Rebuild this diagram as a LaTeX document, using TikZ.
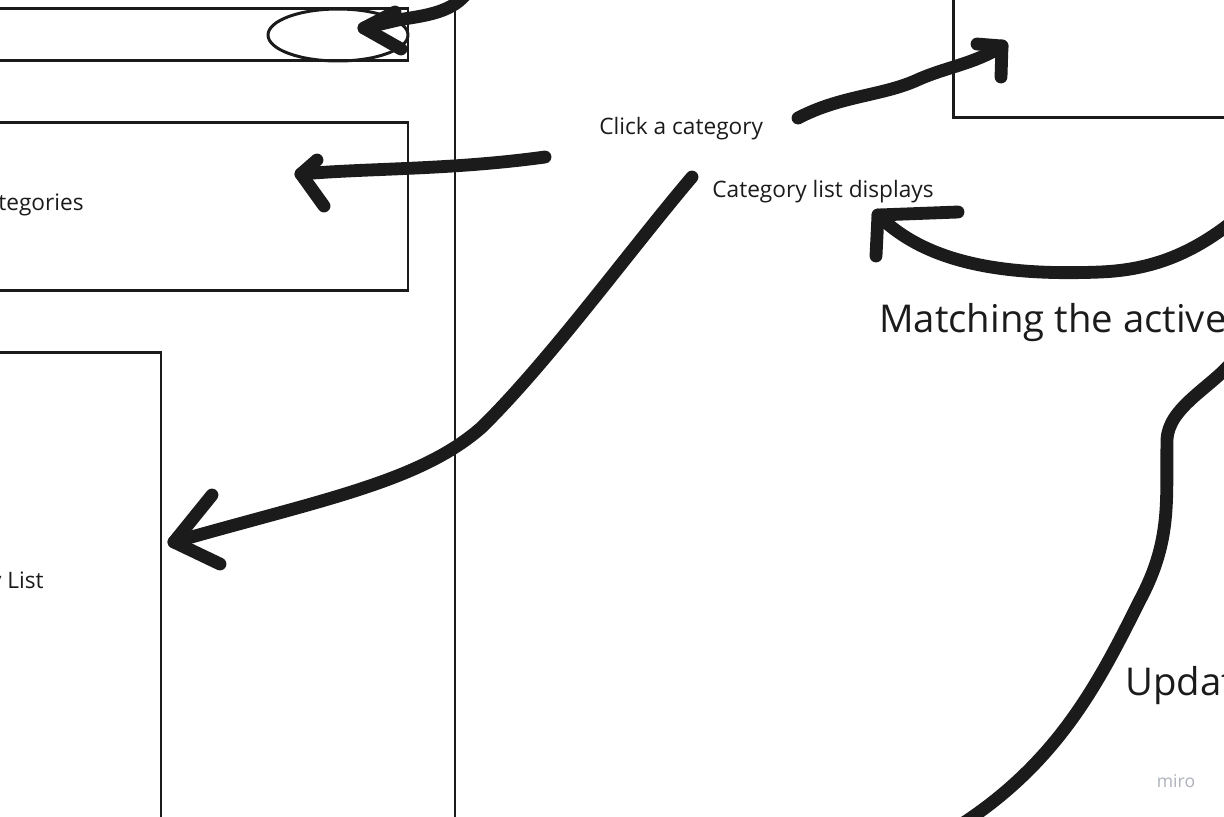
\documentclass[tikz,border=0pt]{standalone}
\usepackage{fontspec}
\setmainfont{Open Sans}
\usepackage{tikz}
\usetikzlibrary{positioning,shapes.geometric,calc}
\definecolor{ink}    {HTML}{1B1B1B}
\definecolor{softink}{HTML}{ADB1BB}
\tikzset{
  % --- wireframe
  wire/.style  = {draw=ink, line width=1.7pt},
  oval/.style  = {wire, ellipse, minimum width=2.8cm, minimum height=1.04cm, inner sep=0pt},
  % --- marker strokes
  pen/.style   = {draw=ink, line width=7.3pt, line cap=round, line join=round},
  % --- texts
  note/.style  = {font=\fontsize{12.9}{15}\selectfont, text=ink, inner sep=0pt},
  big/.style   = {font=\fontsize{21.8}{26}\selectfont, text=ink, inner sep=0pt},
  wmark/.style = {font=\fontsize{10}{12}\selectfont, text=softink, inner sep=0pt},
}

\begin{document}
\begin{tikzpicture}[x=0.02cm, y=-0.02cm]
  \useasboundingbox (0,0) rectangle (1224,816);
  \clip (0,0) rectangle (1224,816);

  % screen mock-up on the left
  \draw[wire] (455,-20) -- (455,840);
  \draw[wire] (-20,8) rectangle (408,60);
  \node[oval] (toggle) at (338,35) {};
  \draw[wire] (-20,122) rectangle (408,290);
  \node[note, anchor=base east] (cats) at (84,210) {Categories};
  \draw[wire] (-20,352) rectangle (161,840);
  \node[note, anchor=base east] (list) at (44,588) {Category List};

  % detail box, top right
  \draw[wire] (953,-20) rectangle (1240,117);

  % flow notes
  \node[note, anchor=base west] (click) at (599,134) {Click a category};
  \node[note, anchor=base west] (shows) at (712,197) {Category list displays};
  \node[big, anchor=base west] (match) at (879,332) {Matching the active};
  \node[big, anchor=base west] (upd) at (1125,695) {Update};
  \node[wmark] (miro) at (1176,781) {miro};

  % arrow ends
  \coordinate (a1s) at (466,-6);   \coordinate (a1t) at (364,28);
  \coordinate (a2s) at (545,157);  \coordinate (a2t) at (301,174);
  \coordinate (a3s) at (692,177);  \coordinate (a3t) at (174,542);
  \coordinate (a4s) at (798,118);  \coordinate (a4t) at (1002,46);
  \coordinate (a5s) at (1232,222); \coordinate (a5t) at (878,215);
  \coordinate (a6s) at (1232,362); \coordinate (a6t) at (962,824);

  % toggle arrow
  \draw[pen] (a1s) .. controls (450,14) and (420,16) .. (398,20) -- (a1t);
  \draw[pen] (395,12) -- (a1t) -- (401,49);

  % click -> categories
  \draw[pen] (a2s) .. controls (450,170) and (370,168) .. (a2t);
  \draw[pen] (317,160) -- (a2t) -- (324,206);

  % displays -> list
  \draw[pen] (a3s) .. controls (630,250) and (550,360) .. (482,427)
                   .. controls (420,482) and (320,500) .. (a3t);
  \draw[pen] (212,495) -- (a3t) -- (220,564);

  % click -> detail box
  \draw[pen] (a4s) .. controls (840,96) and (880,96) .. (915,81)
                   .. controls (945,67) and (975,64) .. (a4t);
  \draw[pen] (977,44) -- (a4t) -- (1001,77);

  % back to the list
  \draw[pen] (a5s) .. controls (1190,255) and (1150,270) .. (1100,272)
                   .. controls (1000,276) and (925,262) .. (a5t);
  \draw[pen] (958,212) -- (a5t) -- (876,256);

  % down to update
  \draw[pen] (a6s) .. controls (1210,388) and (1168,408) .. (1167,440)
                   .. controls (1166,500) and (1172,540) .. (1140,600)
                   .. controls (1100,680) and (1060,760) .. (a6t);
\end{tikzpicture}
\end{document}
